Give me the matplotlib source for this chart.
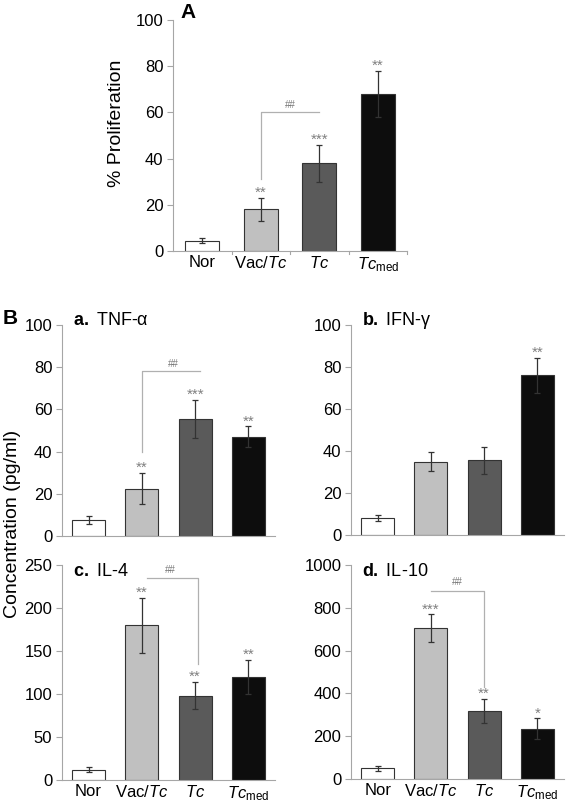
import matplotlib
matplotlib.use("Agg")
import matplotlib.pyplot as plt
import numpy as np

plt.rcParams['font.family'] = ['Liberation Sans', 'DejaVu Sans']
plt.rcParams['mathtext.fontset'] = 'custom'
plt.rcParams['mathtext.rm'] = 'Liberation Sans'
plt.rcParams['mathtext.it'] = 'Liberation Sans:italic'
plt.rcParams['mathtext.bf'] = 'Liberation Sans:bold'

# groups and tick labels
groups = ['Nor', 'Vac/Tc', 'Tc', 'Tcmed']
tick_labels = ['Nor', r'Vac/$\it{Tc}$', r'$\it{Tc}$', r'$\it{Tc}_{\rm med}$']
bar_colors = ['#ffffff', '#c0c0c0', '#5a5a5a', '#0d0d0d']

# panel A - proliferation
prolif = [4.5, 18, 38, 68]
prolif_err = [1, 5, 8, 10]
prolif_stars = ['', '**', '***', '**']

# panel B - cytokines
tnf = [7.5, 22.5, 55.5, 47]
tnf_err = [2, 7.5, 9, 5]
tnf_stars = ['', '**', '***', '**']

ifn = [8, 35, 35.5, 76]
ifn_err = [1.5, 4.5, 6.5, 8.5]
ifn_stars = ['', '', '', '**']

il4 = [12, 180, 98, 120]
il4_err = [3, 32, 16, 20]
il4_stars = ['', '**', '**', '**']

il10 = [50, 705, 318, 235]
il10_err = [12, 65, 58, 50]
il10_stars = ['', '***', '**', '*']

W, H = 566, 806
fig = plt.figure(figsize=(W / 100, H / 100), dpi=100)


def px_axes(left, top, right, bottom):
    return fig.add_axes([left / W, 1 - bottom / H, (right - left) / W, (bottom - top) / H])


def draw_panel(ax, vals, errs, stars, ymax, step, xlabels=True, ticks=False, width=0.62):
    x = np.arange(len(vals))
    ax.bar(x, vals, width=width, color=bar_colors, edgecolor='#333333', linewidth=0.8, zorder=2)
    ax.errorbar(x, vals, yerr=errs, fmt='none', ecolor='#333333', elinewidth=0.9,
                capsize=2.5, capthick=0.9, zorder=3)
    for xi, v, e, s in zip(x, vals, errs, stars):
        if s:
            ax.annotate(s, (xi, v + e), xytext=(0, 0.5), textcoords='offset points',
                        ha='center', va='baseline', fontsize=11, color='#808080')
    ax.set_xlim(-0.5, 3.5)
    ax.set_ylim(0, ymax)
    ax.set_yticks(np.arange(0, ymax + 1, step))
    for sp in ['top', 'right']:
        ax.spines[sp].set_visible(False)
    for sp in ['left', 'bottom']:
        ax.spines[sp].set_color('#a6a6a6')
    ax.spines['bottom'].set_zorder(4)
    ax.tick_params(axis='y', length=4, color='#a6a6a6', labelsize=12, pad=3)
    if xlabels:
        ax.set_xticks(x)
        ax.set_xticklabels(tick_labels, fontsize=12)
    else:
        ax.set_xticks([])
    ax.tick_params(axis='x', length=0, pad=3)
    if ticks:
        for b in [0.5, 1.5, 2.5, 3.5]:
            ax.plot([b, b], [0, -ymax * 0.015], color='#a6a6a6', lw=0.8, clip_on=False)


def bracket(ax, pts, lx, ly):
    xs, ys = zip(*pts)
    ax.plot(xs, ys, color='#b0b0b0', lw=0.9, zorder=1)
    ax.text(lx, ly, '##', ha='center', va='bottom', fontsize=7, color='#777777')


# Panel A
axA = px_axes(173, 20, 407, 251)
draw_panel(axA, prolif, prolif_err, prolif_stars, 100, 20, ticks=True, width=0.58)
bracket(axA, [(1, 31), (1, 60), (2, 60)], 1.5, 61)
fig.text(116 / W, 1 - 123 / H, '% Proliferation', fontsize=14, rotation=90,
         ha='center', va='center')
fig.text(180 / W, 1 - 3 / H, 'A', fontsize=15, fontweight='bold', va='top')

# Panel B a
axa = px_axes(62, 325, 275, 536)
draw_panel(axa, tnf, tnf_err, tnf_stars, 100, 20, xlabels=False)
bracket(axa, [(1, 40), (1, 78), (2.1, 78)], 1.59, 79)
axa.text(0.05, 1.02, r'$\bf{a.}$ TNF-α', transform=axa.transAxes, fontsize=13, va='center')

# Panel B b
axb = px_axes(351, 325, 564, 535)
draw_panel(axb, ifn, ifn_err, ifn_stars, 100, 20, xlabels=False)
axb.text(0.05, 1.02, r'$\bf{b.}$ IFN-γ', transform=axb.transAxes, fontsize=13, va='center')

# Panel B c
axc = px_axes(62, 565, 275, 780)
draw_panel(axc, il4, il4_err, il4_stars, 250, 50)
bracket(axc, [(1.1, 235), (2.05, 235), (2.05, 135)], 1.54, 238)
axc.text(0.05, 0.97, r'$\bf{c.}$ IL-4', transform=axc.transAxes, fontsize=13, va='center')

# Panel B d
axd = px_axes(351, 565, 564, 779)
draw_panel(axd, il10, il10_err, il10_stars, 1000, 200)
bracket(axd, [(1, 879), (2, 879), (2, 432)], 1.5, 895)
axd.text(0.05, 0.97, r'$\bf{d.}$ IL-10', transform=axd.transAxes, fontsize=13, va='center')

fig.text(3 / W, 1 - 309 / H, 'B', fontsize=15, fontweight='bold', va='top')
fig.text(13 / W, 1 - 524 / H, 'Concentration (pg/ml)', fontsize=14, rotation=90,
         ha='center', va='center')

fig.savefig('out.png', dpi=100)
